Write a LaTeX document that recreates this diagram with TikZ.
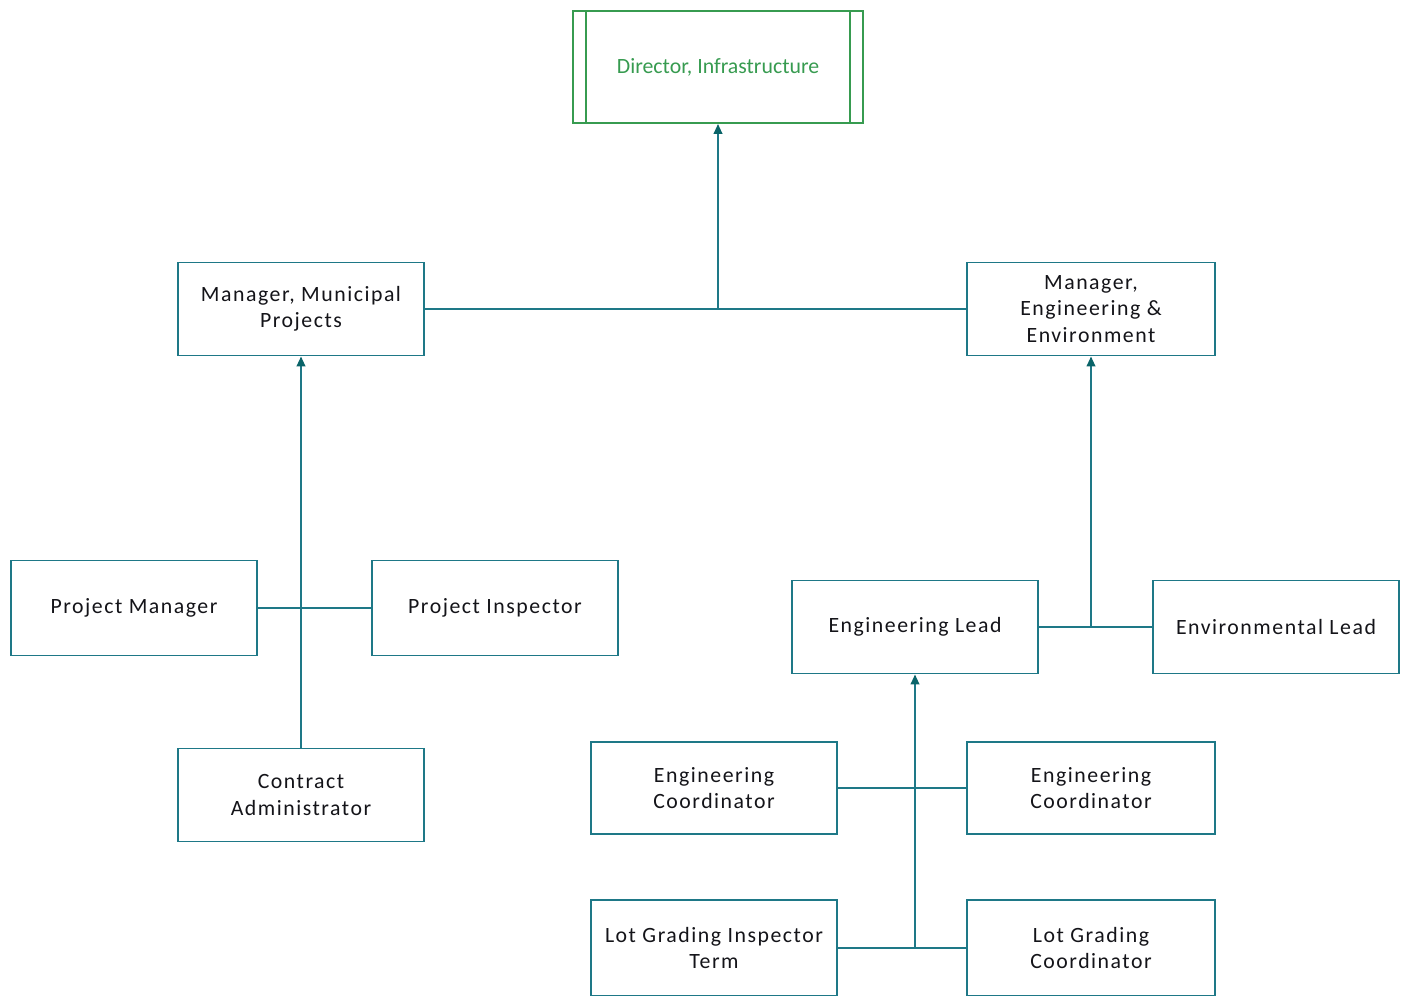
\documentclass[tikz,border=0pt]{standalone}
\usepackage{fontspec}
\setmainfont{Carlito}[LetterSpace=7]
\newfontfamily\plainfont{Carlito}
\usepackage{tikz}
\definecolor{orgteal}{RGB}{30, 120, 135}
\definecolor{arrowteal}{RGB}{10, 100, 105}
\definecolor{dirgreen}{RGB}{55, 155, 80}
\definecolor{textdark}{RGB}{20, 20, 25}
\usetikzlibrary{arrows.meta, positioning, calc}

\begin{document}
\begin{tikzpicture}[
    x=0.025cm, y=-0.025cm,
    box/.style={draw=orgteal, line width=1.3pt, fill=white, text=textdark,
                minimum width=6.15cm, minimum height=2.325cm, align=center,
                inner sep=0pt, font=\fontsize{15.5}{18.6}\selectfont},
    dirbox/.style={draw=dirgreen, line width=1.3pt, text=dirgreen,
                minimum width=7.25cm, minimum height=2.8cm, align=center,
                font=\plainfont\fontsize{15.5}{18.6}\selectfont},
    link/.style={draw=orgteal, line width=1.4pt},
    arrow/.style={link, -{Triangle[length=7pt, width=6pt, color=arrowteal]}}
]
    \useasboundingbox (0,0) rectangle (1408,995);

    % Nodes
    \node[dirbox] (dir) at (718,67) {Director, Infrastructure};
    \node[box] (mmp) at (301,309) {Manager, Municipal\\Projects};
    \node[box, minimum width=6.2cm] (mee) at (1091,309) {Manager,\\Engineering \&\\Environment};
    \node[box, minimum height=2.375cm] (pm) at (134,608) {Project Manager};
    \node[box, minimum height=2.375cm] (pi) at (495,608) {Project Inspector};
    \node[box] (ca) at (301,795) {Contract\\Administrator};
    \node[box] (englead) at (915,627) {Engineering Lead};
    \node[box] (envlead) at (1276,627) {Environmental Lead};
    \node[box, minimum height=2.3cm] (ec1) at (714,788) {Engineering\\Coordinator};
    \node[box, minimum width=6.2cm, minimum height=2.3cm] (ec2) at (1091,788) {Engineering\\Coordinator};
    \node[box, minimum height=2.4cm] (lgi) at (714,948) {Lot Grading Inspector\\Term};
    \node[box, minimum width=6.2cm, minimum height=2.4cm] (lgc) at (1091,948) {Lot Grading\\Coordinator};

    % Director side bars
    \draw[draw=dirgreen, line width=1.3pt] ($(dir.north west)+(14,0)$) -- ($(dir.south west)+(14,0)$);
    \draw[draw=dirgreen, line width=1.3pt] ($(dir.north east)+(-14,0)$) -- ($(dir.south east)+(-14,0)$);

    % Connectors - managers to director
    \draw[link] (mmp) -- (mee);
    \draw[arrow] (dir |- mmp.east) -- (dir.south);

    % Connectors - municipal projects
    \draw[link] (pm) -- (pi);
    \draw[arrow] (ca.north) -- (mmp.south);

    % Connectors - engineering & environment
    \draw[link] (englead) -- (envlead);
    \draw[arrow] (mee |- englead.east) -- (mee.south);
    \draw[link] (ec1) -- (ec2);
    \draw[link] (lgi) -- (lgc);
    \draw[arrow] (englead |- lgi.east) -- (englead.south);
\end{tikzpicture}
\end{document}
